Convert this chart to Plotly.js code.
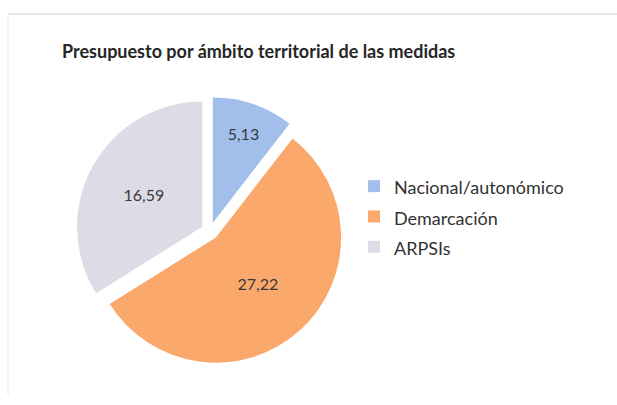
<!DOCTYPE html>
<html>
<head>
<meta charset="utf-8">
<script src="https://cdn.plot.ly/plotly-3.0.1.min.js"></script>
<style>html,body{margin:0;padding:0;background:#fff;}#chart{width:617px;height:405px;}</style>
</head>
<body>
<div id="chart"></div>
<script>
const categories = ["Nacional/autonómico", "Demarcación", "ARPSIs"];
const values = [5.13, 27.22, 16.59];
const colors = ["#A2BFEB", "#FAA86B", "#DCDBE6"];
const titleText = "Presupuesto por ámbito territorial de las medidas";

const FONT = "Lato, 'Open Sans', sans-serif";

const trace = {
  type: "pie",
  labels: categories.map(c => '<span style="font-size:18px">' + c + '</span>'),
  values: values,
  sort: false,
  direction: "clockwise",
  rotation: 0,
  pull: [0.07, 0.07, 0.07],
  marker: {colors: colors, line: {color: "#ffffff", width: 0}},
  texttemplate: "%{value:.2f}",
  textposition: "inside",
  insidetextorientation: "horizontal",
  textfont: {family: FONT, size: 16, color: "#3a3a3a"},
  hoverinfo: "value",
  domain: {x: [76/617, 344/617], y: [40/405, 308/405]}
};

const layout = {
  width: 617, height: 405,
  margin: {l: 0, r: 0, t: 0, b: 0},
  paper_bgcolor: "#ffffff",
  separators: ",.",
  title: {
    text: "<b>" + titleText + "</b>",
    font: {family: FONT, size: 18, color: "#262626"},
    x: 62/617, xanchor: "left", y: 1 - 52/405, yanchor: "middle"
  },
  showlegend: true,
  legend: {
    x: 354/617, xanchor: "left", y: 1 - 166/405, yanchor: "top",
    font: {family: FONT, size: 21, color: "#333333"},
    itemwidth: 30, tracegroupgap: 0
  },
  shapes: [
    {type: "line", xref: "paper", yref: "paper", x0: 8/617, x1: 1, y0: 1 - 14/405, y1: 1 - 14/405, line: {color: "#cfcfcf", width: 1}},
    {type: "line", xref: "paper", yref: "paper", x0: 8/617, x1: 8/617, y0: 1 - 14/405, y1: 10/405, line: {color: "#e4e4e4", width: 1}}
  ]
};

Plotly.newPlot("chart", [trace], layout, {displayModeBar: false, staticPlot: true});
</script>
</body>
</html>
